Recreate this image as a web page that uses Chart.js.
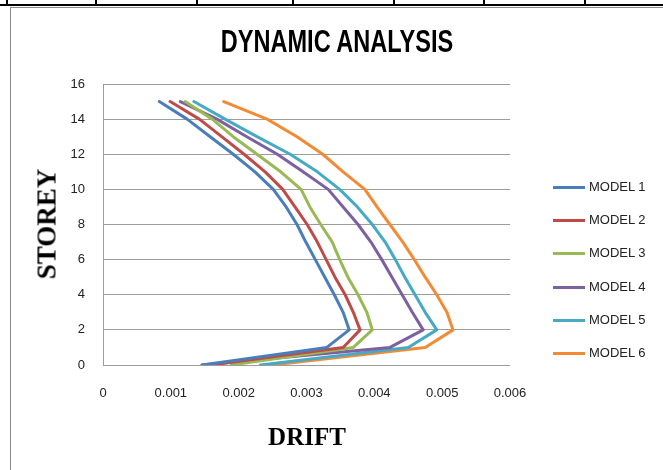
<!DOCTYPE html>
<html>
<head>
<meta charset="utf-8">
<script src="https://cdn.jsdelivr.net/npm/chart.js@4"></script>
<style>
  body { margin: 0; background: #fff; }
  #wrap { position: relative; width: 663px; height: 470px; overflow: hidden; background: #fff; }
  #wrap canvas { position: absolute; left: 0; top: 0; }
  .frame { position: absolute; left: 10px; top: 7px; width: 700px; height: 500px; border: 1px solid #8c8c8c; }
  .cellrow { position: absolute; left: 0; top: 4px; width: 663px; height: 2px; background: #000; }
  .cellv { position: absolute; top: 0; width: 2px; height: 6px; background: #000; }
  .ttl { position: absolute; white-space: nowrap; color: #000; }
  .leg { position: absolute; left: 553px; font: 13px 'Liberation Sans', Arial, sans-serif; color: #222; }
  .leg span.ln { position: absolute; left: 0; top: 7px; width: 32px; height: 3px; }
  .leg span.tx { position: absolute; left: 36px; top: 0; white-space: nowrap; }
</style>
</head>
<body>
<div id="wrap">
  <div class="cellrow"></div>
  <div class="frame"></div>
  <canvas id="driftChart" width="663" height="470"></canvas>
  <div class="ttl" style="left:337px; top:42px; font: bold 31px 'Liberation Sans', Arial, sans-serif; transform: translate(-50%,-50%) scaleX(0.76);">DYNAMIC ANALYSIS</div>
  <div class="ttl" style="left:47px; top:224px; font: bold 27px 'Liberation Serif', 'Times New Roman', serif; transform: translate(-50%,-50%) rotate(-90deg);">STOREY</div>
  <div class="ttl" style="left:307px; top:437px; font: bold 25px 'Liberation Serif', 'Times New Roman', serif; transform: translate(-50%,-50%);">DRIFT</div>
  <div id="legend"></div>
</div>
<script>
// data (drift per storey)
var storeys = [0, 1, 2, 3, 4, 5, 6, 7, 8, 9, 10, 11, 12, 13, 14, 15];
var model1 = [0.00146, 0.00330, 0.00363, 0.00354, 0.00341, 0.00327, 0.00313, 0.00299, 0.00286, 0.00270, 0.00251, 0.00224, 0.00192, 0.00158, 0.00124, 0.00083];
var model2 = [0.00159, 0.00354, 0.00379, 0.00369, 0.00357, 0.00342, 0.00329, 0.00316, 0.00301, 0.00283, 0.00265, 0.00239, 0.00208, 0.00175, 0.00142, 0.00099];
var model3 = [0.00189, 0.00369, 0.00397, 0.00389, 0.00376, 0.00361, 0.00349, 0.00338, 0.00321, 0.00305, 0.00292, 0.00262, 0.00227, 0.00192, 0.00161, 0.00121];
var model4 = [0.00146, 0.00423, 0.00472, 0.00456, 0.00441, 0.00426, 0.00411, 0.00395, 0.00376, 0.00354, 0.00332, 0.00295, 0.00257, 0.00212, 0.00168, 0.00114];
var model5 = [0.00232, 0.00450, 0.00492, 0.00475, 0.00460, 0.00445, 0.00431, 0.00416, 0.00397, 0.00375, 0.00349, 0.00316, 0.00276, 0.00227, 0.00180, 0.00134];
var model6 = [0.00249, 0.00475, 0.00516, 0.00507, 0.00492, 0.00475, 0.00459, 0.00442, 0.00423, 0.00404, 0.00386, 0.00354, 0.00324, 0.00286, 0.00242, 0.00178];
var modelNames = ['MODEL 1', 'MODEL 2', 'MODEL 3', 'MODEL 4', 'MODEL 5', 'MODEL 6'];
var modelColors = ['#4a7ebb', '#be4b48', '#98b954', '#7d60a0', '#46aac5', '#f38b36'];
var xTicks = ['0', '0.001', '0.002', '0.003', '0.004', '0.005', '0.006'];
var yTicks = ['0', '2', '4', '6', '8', '10', '12', '14', '16'];

// spreadsheet cell borders above the chart
[6, 95, 196, 292, 393, 483, 584].forEach(function(x) {
    var d = document.createElement('div');
    d.className = 'cellv';
    d.style.left = x + 'px';
    document.getElementById('wrap').appendChild(d);
});

var allModels = [model1, model2, model3, model4, model5, model6];
var datasets = allModels.map(function(vals, i) {
    return {
        label: modelNames[i],
        data: vals.map(function(v, j) { return { x: v, y: storeys[j] }; }),
        borderColor: modelColors[i],
        backgroundColor: modelColors[i],
        borderWidth: 3,
        borderJoinStyle: 'round',
        borderCapStyle: 'round',
        showLine: true,
        pointRadius: 0,
        tension: 0,
        fill: false
    };
});

// legend
var legend = document.getElementById('legend');
modelNames.forEach(function(name, i) {
    var item = document.createElement('div');
    item.className = 'leg';
    item.style.top = (179 + i * 33.2) + 'px';
    item.innerHTML = '<span class="ln" style="background:' + modelColors[i] + '"></span><span class="tx">' + name + '</span>';
    legend.appendChild(item);
});

Chart.defaults.font.family = "'Liberation Sans', Arial, sans-serif";
Chart.defaults.font.size = 13;
Chart.defaults.color = '#222';

var ctx = document.getElementById('driftChart').getContext('2d');
var driftChart = new Chart(ctx, {
    type: 'scatter',
    data: { datasets: datasets },
    options: {
        responsive: false,
        animation: false,
        layout: { padding: { top: 84, right: 153, left: 0, bottom: 0 } },
        plugins: {
            legend: { display: false },
            tooltip: { enabled: false }
        },
        scales: {
            x: {
                type: 'linear',
                min: 0,
                max: 0.006,
                afterFit: function(s) { s.height = 105; },
                afterBuildTicks: function(s) {
                    s.ticks = xTicks.map(function(t) { return { value: parseFloat(t) }; });
                },
                ticks: {
                    padding: 21,
                    callback: function(v, i) { return xTicks[i]; }
                },
                grid: { display: false, drawTicks: false },
                border: { display: false }
            },
            y: {
                type: 'linear',
                min: 0,
                max: 16,
                afterFit: function(s) { s.width = 103; },
                afterBuildTicks: function(s) {
                    s.ticks = yTicks.map(function(t) { return { value: parseFloat(t) }; });
                },
                ticks: {
                    padding: 18,
                    callback: function(v, i) { return yTicks[i]; }
                },
                grid: { color: '#9c9c9c', lineWidth: 1, drawTicks: false },
                border: { display: true, color: '#9c9c9c', width: 1 }
            }
        }
    }
});
</script>
</body>
</html>
